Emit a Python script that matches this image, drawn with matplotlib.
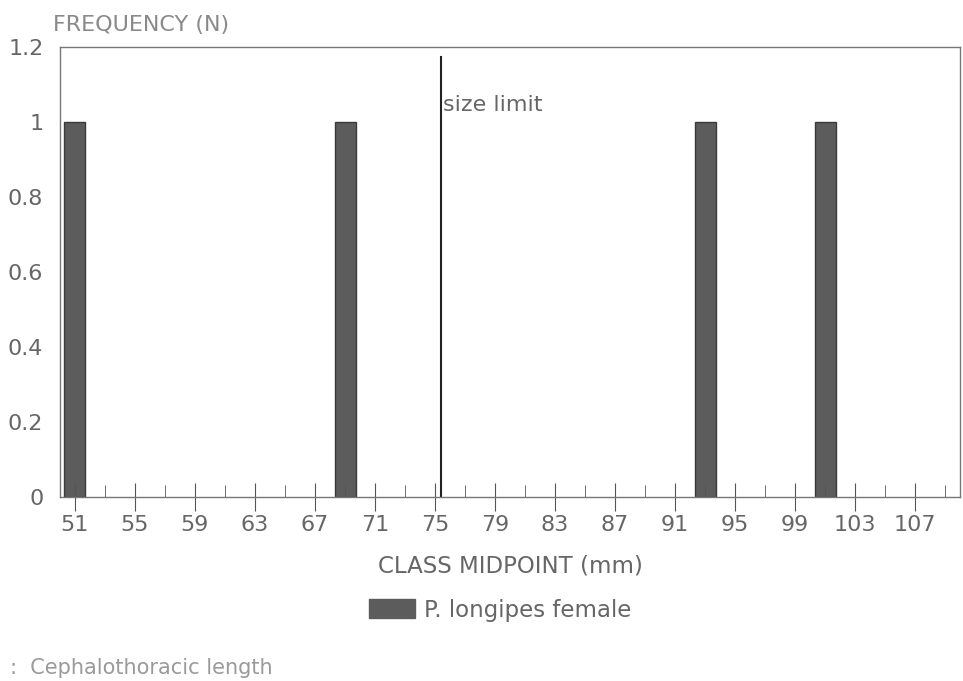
import numpy as np
import matplotlib
matplotlib.use('Agg')
import matplotlib.pyplot as plt
from matplotlib.patches import Patch

# class midpoints (mm) that have animals, and their counts
midpoints = [51, 69, 93, 101]
frequency = [1, 1, 1, 1]
size_limit = 75.4

major_ticks = list(range(51, 108, 4))
minor_ticks = list(range(53, 110, 4))
y_ticks = [0, 0.2, 0.4, 0.6, 0.8, 1, 1.2]
y_labels = ['0', '0.2', '0.4', '0.6', '0.8', '1', '1.2']

plt.rcParams['font.family'] = ['DejaVu Sans']
txt = '#666666'

fig = plt.figure(figsize=(9.63, 6.81), dpi=100)
ax = fig.add_axes([0.0623, 0.2702, 0.9346, 0.6608])

ax.bar(midpoints, frequency, width=1.4, color='#5c5c5c', edgecolor='#3a3a3a', linewidth=1)
ax.axvline(size_limit, ymin=0, ymax=0.978, color='#222222', linewidth=1.5)
ax.text(size_limit + 0.15, 1.045, 'size limit', fontsize=16, color=txt, ha='left', va='center')

ax.set_xlim(50, 110)
ax.set_ylim(0, 1.2)
ax.set_xticks(major_ticks)
ax.set_xticks(minor_ticks, minor=True)
ax.set_yticks(y_ticks)
ax.set_yticklabels(y_labels)
ax.tick_params(axis='x', which='major', direction='inout', length=20, color='#555555', labelsize=16, labelcolor=txt, pad=3)
ax.tick_params(axis='x', which='minor', direction='in', length=9, color='#555555')
ax.tick_params(axis='y', length=0, labelsize=16, labelcolor=txt, pad=12)
for s in ax.spines.values():
    s.set_color('#777777')
    s.set_linewidth(1)

fig.text(510 / 963, 1 - 566 / 681, 'CLASS MIDPOINT (mm)', fontsize=16.5, color=txt, ha='center', va='center')
fig.text(53 / 963, 1 - 25 / 681, 'FREQUENCY (N)', fontsize=16, color='#8a8a8a', ha='left', va='center')

ax.legend(handles=[Patch(facecolor='#5c5c5c', edgecolor='#5c5c5c', label='P. longipes female')],
          loc='center', bbox_to_anchor=(500 / 963, 1 - 610 / 681), bbox_transform=fig.transFigure,
          frameon=False, fontsize=16.5, labelcolor=txt, handlelength=2.0, handleheight=0.9,
          handletextpad=0.4)

fig.text(0.01, 0.004, ':  Cephalothoracic length', fontsize=15, color='#9a9a9a', ha='left', va='bottom')

fig.savefig('out.png', dpi=100)
